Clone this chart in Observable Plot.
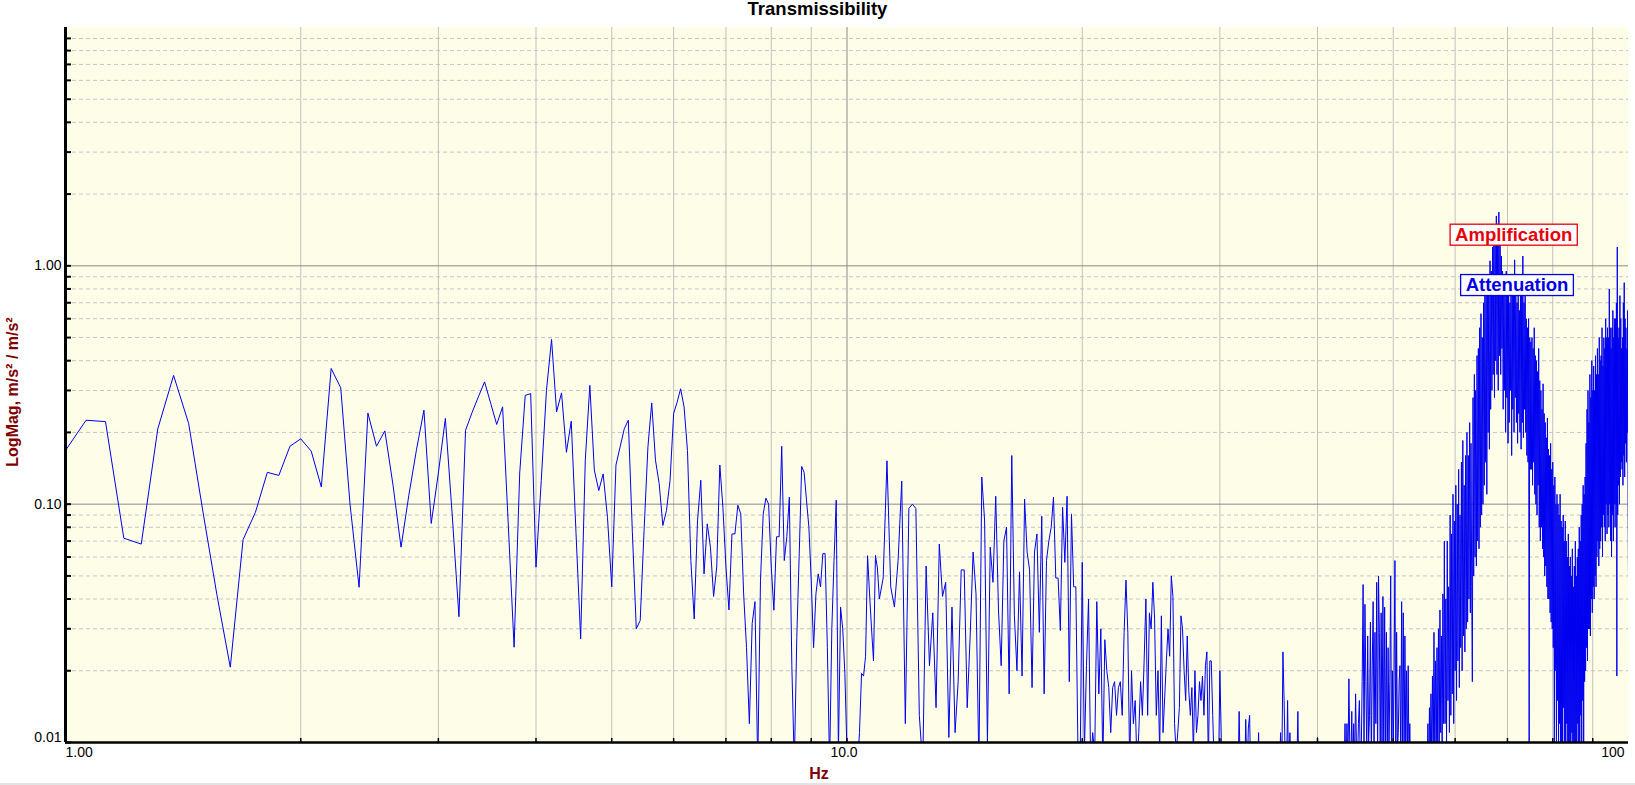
<!DOCTYPE html>
<html>
<head>
<meta charset="utf-8">
<script src="https://cdn.jsdelivr.net/npm/d3@7"></script>
<script src="https://cdn.jsdelivr.net/npm/@observablehq/plot@0.6"></script>
<style>
  body { margin: 0; background: #ffffff; font-family: "Liberation Sans", Arial, sans-serif; }
  #title { height: 20px; line-height: 17px; text-align: center; font-weight: bold; font-size: 18.5px; color: #000; }
  #chart svg { display: block; }
  #bottomline { height: 2px; background: #e3e3e3; }
</style>
</head>
<body>
<div id="title"></div>
<div id="chart"></div>
<div id="bottomline"></div>
<script>
// ---------------- data ----------------
const chartTitle = "Transmissibility";
const xLabel = "Hz";
const yLabel = "LogMag, m/s² / m/s²";

// 1.0 – 11.0 Hz, every FFT bin (0.0625 Hz)
const lowStartHz = 1.0;
const lowStepHz = 0.0625;
const magLow = [
  0.168, 0.225, 0.222, 0.072, 0.068, 0.207, 0.347, 0.218, 0.092, 0.0415, 0.0207, 0.071, 0.0925, 0.136, 0.132, 0.175,
  0.188, 0.167, 0.118, 0.371, 0.308, 0.100, 0.0448, 0.241, 0.175, 0.203, 0.12, 0.066, 0.109, 0.169, 0.248, 0.083,
  0.135, 0.229, 0.09, 0.0337, 0.204, 0.242, 0.282, 0.326, 0.265, 0.216, 0.256, 0.08, 0.0251, 0.135, 0.286, 0.291,
  0.0544, 0.126, 0.30, 0.491, 0.244, 0.293, 0.165, 0.223, 0.076, 0.0272, 0.153, 0.315, 0.139, 0.114, 0.134, 0.088,
  0.045, 0.146, 0.174, 0.207, 0.225, 0.077, 0.030, 0.0325, 0.0776, 0.174, 0.266, 0.153, 0.122, 0.0814, 0.094, 0.126,
  0.240, 0.268, 0.305, 0.256, 0.168, 0.058, 0.033, 0.085, 0.126, 0.051, 0.0827, 0.066, 0.041, 0.0545, 0.146, 0.097,
  0.0545, 0.036, 0.075, 0.075, 0.099, 0.091, 0.042, 0.025, 0.012, 0.0316, 0.039, 0.008, 0.048, 0.091, 0.106, 0.10,
  0.0545, 0.0359, 0.073, 0.073, 0.175, 0.058, 0.073, 0.107, 0.021, 0.008, 0.0276, 0.0623, 0.144, 0.136, 0.104, 0.080,
  0.048, 0.025, 0.042, 0.051, 0.045, 0.062, 0.062, 0.025, 0.008, 0.03, 0.058, 0.104, 0.009, 0.037, 0.030, 0.0195,
  0.009, 0.008, 0.007, 0.007, 0.008, 0.008, 0.011, 0.0195, 0.019, 0.023, 0.0608, 0.042, 0.030, 0.022, 0.061, 0.054,
  0.040
];

// 11.125 – 100 Hz, every 0.125 Hz (one row per Hz)
const highStartHz = 11.125;
const highStepHz = 0.125;
const magHigh = [
  0.049, 0.152, 0.045, 0.037, 0.058, 0.125, 0.012, 0.096,   // 11
  0.1, 0.096, 0.013, 0.008, 0.055, 0.021, 0.035, 0.014,     // 12
  0.068, 0.041, 0.047, 0.0105, 0.037, 0.011, 0.018, 0.053,  // 13
  0.053, 0.014, 0.028, 0.063, 0.042, 0.008, 0.13, 0.085,    // 14
  0.010, 0.066, 0.047, 0.108, 0.036, 0.021, 0.07, 0.08,     // 15
  0.016, 0.16, 0.034, 0.02, 0.052, 0.019, 0.105, 0.063,     // 16
  0.053, 0.017, 0.063, 0.075, 0.029, 0.089, 0.016, 0.058,   // 17
  0.07, 0.08, 0.107, 0.049, 0.049, 0.0295, 0.097, 0.057,    // 18
  0.108, 0.018, 0.091, 0.045, 0.045, 0.009, 0.008, 0.057,   // 19
  0.009, 0.021, 0.04, 0.008, 0.011, 0.009, 0.039, 0.016,    // 20
  0.03, 0.008, 0.027, 0.02, 0.017, 0.011, 0.017, 0.018,     // 21
  0.013, 0.017, 0.018, 0.013, 0.029, 0.048, 0.029, 0.008,   // 22
  0.02, 0.012, 0.015, 0.008, 0.011, 0.018, 0.013, 0.022,    // 23
  0.04, 0.013, 0.035, 0.03, 0.047, 0.033, 0.013, 0.02,      // 24
  0.009, 0.034, 0.011, 0.0155, 0.022, 0.03, 0.023, 0.05,    // 25
  0.041, 0.012, 0.009, 0.011, 0.014, 0.034, 0.03, 0.02,     // 26
  0.015, 0.028, 0.0165, 0.013, 0.017, 0.009, 0.02, 0.011,   // 27
  0.013, 0.018, 0.015, 0.019, 0.013, 0.021, 0.024, 0.008,   // 28
  0.022, 0.022, 0.013, 0.008, 0.007, 0.006, 0.007, 0.02,    // 29
  0.0105, 0.007, 0.006, 0.007, 0.006, 0.005, 0.006, 0.007,  // 30
  0.006, 0.007, 0.006, 0.007, 0.006, 0.0135, 0.007, 0.006,  // 31
  0.007, 0.006, 0.0125, 0.007, 0.0115, 0.013, 0.006, 0.007, // 32
  0.006, 0.007, 0.006, 0.007, 0.011, 0.006, 0.007, 0.006,   // 33
  0.006, 0.007, 0.005, 0.006, 0.007, 0.006, 0.005, 0.006,   // 34
  0.006, 0.007, 0.006, 0.005, 0.006, 0.007, 0.011, 0.007,   // 35
  0.024, 0.015, 0.008, 0.007, 0.015, 0.006, 0.011, 0.006,   // 36
  0.007, 0.006, 0.005, 0.006, 0.007, 0.0135, 0.006, 0.007,  // 37
  0.006, 0.005, 0.006, 0.007, 0.006, 0.005, 0.006, 0.007,   // 38
  0.006, 0.007, 0.0095, 0.006, 0.005, 0.006, 0.007, 0.0105, // 39
  0.006, 0.007, 0.006, 0.005, 0.006, 0.007, 0.006, 0.005,   // 40
  0.006, 0.005, 0.007, 0.006, 0.005, 0.006, 0.007, 0.006,   // 41
  0.006, 0.005, 0.006, 0.007, 0.006, 0.005, 0.006, 0.007,   // 42
  0.006, 0.007, 0.012, 0.007, 0.012, 0.008, 0.0185, 0.009,  // 43
  0.008, 0.0135, 0.007, 0.012, 0.008, 0.016, 0.009, 0.008,  // 44
  0.012, 0.015, 0.008, 0.009, 0.018, 0.046, 0.009, 0.038,   // 45
  0.018, 0.009, 0.028, 0.01, 0.013, 0.032, 0.008, 0.021,    // 46
  0.039, 0.009, 0.029, 0.012, 0.047, 0.008, 0.05, 0.029,    // 47
  0.008, 0.035, 0.009, 0.041, 0.008, 0.037, 0.009, 0.029,   // 48
  0.008, 0.025, 0.009, 0.018, 0.05, 0.008, 0.02, 0.009,     // 49
  0.02, 0.058, 0.008, 0.029, 0.009, 0.011, 0.018, 0.021,    // 50
  0.008, 0.039, 0.009, 0.035, 0.008, 0.028, 0.01, 0.02,     // 51
  0.008, 0.021, 0.008, 0.012, 0.007, 0.006, 0.007, 0.006,   // 52
  0.006, 0.007, 0.006, 0.005, 0.006, 0.007, 0.006, 0.005,   // 53
  0.006, 0.005, 0.006, 0.007, 0.006, 0.005, 0.006, 0.007,   // 54
  0.006, 0.007, 0.012, 0.006, 0.014, 0.008, 0.016, 0.009,   // 55
  0.019, 0.008, 0.029, 0.009, 0.022, 0.008, 0.025, 0.01,    // 56
  0.03, 0.009, 0.036, 0.011, 0.028, 0.009, 0.042, 0.012,    // 57
  0.07, 0.012, 0.04, 0.01, 0.07, 0.015, 0.045, 0.011,       // 58
  0.09, 0.013, 0.075, 0.016, 0.11, 0.012, 0.085, 0.02,      // 59
  0.12, 0.015, 0.1, 0.022, 0.14, 0.017, 0.09, 0.025,        // 60
  0.15, 0.02, 0.185, 0.028, 0.12, 0.024, 0.16, 0.03,        // 61
  0.2, 0.032, 0.16, 0.04, 0.22, 0.035, 0.18, 0.045,         // 62
  0.018, 0.28, 0.05, 0.35, 0.06, 0.3, 0.055, 0.42,          // 63
  0.07, 0.45, 0.065, 0.55, 0.08, 0.63, 0.09, 0.5,           // 64
  0.1, 0.7, 0.12, 0.85, 0.15, 0.75, 0.11, 0.9,              // 65
  0.2, 0.9, 0.17, 1.05, 0.25, 0.95, 0.3, 1.2,               // 66
  0.35, 1.3, 0.28, 1.45, 0.4, 1.62, 0.35, 1.5,              // 67
  0.3, 1.68, 0.42, 1.35, 0.35, 1.1, 0.45, 0.95,             // 68
  0.25, 0.9, 0.3, 0.8, 0.2, 0.95, 0.28, 0.75,               // 69
  0.18, 0.85, 0.22, 0.7, 0.3, 0.9, 0.16, 0.8,               // 70
  0.25, 0.75, 0.2, 1.06, 0.28, 0.85, 0.22, 0.7,             // 71
  0.18, 0.8, 0.24, 0.65, 0.2, 0.9, 0.17, 0.75,              // 72
  0.22, 1.1, 0.19, 0.7, 0.25, 0.85, 0.2, 0.6,               // 73
  0.16, 0.55, 0.15, 0.6, 0.008, 0.5, 0.14, 0.48,            // 74
  0.14, 0.5, 0.12, 0.45, 0.15, 0.55, 0.11, 0.42,            // 75
  0.1, 0.4, 0.09, 0.36, 0.12, 0.45, 0.08, 0.33,             // 76
  0.07, 0.3, 0.08, 0.25, 0.065, 0.32, 0.06, 0.24,           // 77
  0.05, 0.22, 0.055, 0.19, 0.045, 0.23, 0.04, 0.17,         // 78
  0.04, 0.16, 0.035, 0.18, 0.032, 0.14, 0.03, 0.15,         // 79
  0.025, 0.12, 0.008, 0.13, 0.02, 0.1, 0.009, 0.11,         // 80
  0.015, 0.1, 0.008, 0.09, 0.012, 0.11, 0.009, 0.085,       // 81
  0.01, 0.08, 0.009, 0.09, 0.014, 0.07, 0.008, 0.085,       // 82
  0.008, 0.07, 0.012, 0.06, 0.008, 0.075, 0.009, 0.055,     // 83
  0.01, 0.06, 0.008, 0.05, 0.011, 0.065, 0.008, 0.045,      // 84
  0.009, 0.055, 0.008, 0.07, 0.01, 0.05, 0.008, 0.06,       // 85
  0.012, 0.065, 0.009, 0.08, 0.008, 0.07, 0.013, 0.09,      // 86
  0.01, 0.1, 0.015, 0.12, 0.009, 0.11, 0.018, 0.13,         // 87
  0.02, 0.18, 0.025, 0.25, 0.022, 0.3, 0.03, 0.22,          // 88
  0.03, 0.35, 0.028, 0.28, 0.04, 0.4, 0.035, 0.3,           // 89
  0.045, 0.38, 0.04, 0.3, 0.05, 0.42, 0.045, 0.35,          // 90
  0.06, 0.45, 0.07, 0.35, 0.055, 0.5, 0.065, 0.4,           // 91
  0.07, 0.42, 0.08, 0.55, 0.06, 0.38, 0.09, 0.5,            // 92
  0.08, 0.45, 0.07, 0.6, 0.1, 0.5, 0.075, 0.55,             // 93
  0.09, 0.5, 0.08, 0.8, 0.1, 0.55, 0.07, 0.45,              // 94
  0.06, 0.55, 0.09, 0.65, 0.07, 0.5, 0.1, 0.6,              // 95
  0.08, 0.6, 0.1, 0.7, 0.019, 1.2, 0.09, 0.5,               // 96
  0.12, 0.55, 0.1, 0.75, 0.13, 0.6, 0.15, 0.45,             // 97
  0.14, 0.5, 0.12, 0.7, 0.16, 0.85, 0.13, 0.6,              // 98
  0.18, 0.55, 0.15, 0.45, 0.2, 0.65, 0.1, 0.047             // 99
];

const xDomain = [1, 100];
const yDomain = [0.01, 10];
const xMajorTicks = [1, 10, 100];
const xTickLabels = ["1.00", "10.0", "100"];
const xMinorGrid = [2, 3, 4, 5, 6, 7, 8, 9, 20, 30, 40, 50, 60, 70, 80, 90];
const yMajorTicks = [0.01, 0.1, 1];
const yTickLabels = ["0.01", "0.10", "1.00"];
const yMinorGrid = [0.02, 0.03, 0.04, 0.05, 0.06, 0.07, 0.08, 0.09,
                    0.2, 0.3, 0.4, 0.5, 0.6, 0.7, 0.8, 0.9,
                    2, 3, 4, 5, 6, 7, 8, 9];
const annotations = [
  {label: "Amplification", f: 71.3, v: 1.35, color: "#e8000b"},
  {label: "Attenuation",   f: 72.0, v: 0.83, color: "#0000e6"}
];

// ---------------- build ----------------
const spectrum = [
  ...magLow.map((v, i) => ({f: lowStartHz + i * lowStepHz, v})),
  ...magHigh.map((v, i) => ({f: highStartHz + i * highStepHz, v}))
];

document.getElementById("title").textContent = chartTitle;

const yLab = d => yTickLabels[yMajorTicks.indexOf(d)];
const xLab = d => xTickLabels[xMajorTicks.indexOf(d)];

const plot = Plot.plot({
  width: 1635,
  height: 763,
  marginLeft: 65,
  marginRight: 7,
  marginTop: 7,
  marginBottom: 41,
  x: {type: "log", domain: xDomain, label: null},
  y: {type: "log", domain: yDomain, label: null},
  style: {fontFamily: "'Liberation Sans', Arial, sans-serif", fontSize: "14px", color: "#000", background: "transparent", overflow: "visible"},
  marks: [
    Plot.frame({fill: "#fefee8", stroke: null}),
    Plot.ruleY(yMinorGrid, {stroke: "#c4c4c4", strokeDasharray: "4,3"}),
    Plot.ruleX(xMinorGrid, {stroke: "#c0c0c0"}),
    Plot.ruleY([0.1, 1], {stroke: "#8a8a8a"}),
    Plot.ruleX([10], {stroke: "#8a8a8a"}),
    Plot.line(spectrum, {x: "f", y: "v", stroke: "#0000f0", strokeWidth: 1, clip: true}),
    Plot.ruleX([xDomain[0]], {stroke: "#000", strokeWidth: 3}),
    Plot.ruleY([yDomain[0]], {stroke: "#000", strokeWidth: 2.5}),
    Plot.axisY([...yMajorTicks, ...yMinorGrid], {anchor: "left", tickSize: -6, strokeWidth: 2, tickFormat: () => "", label: null}),
    Plot.axisX([...xMinorGrid, 10], {anchor: "bottom", tickSize: -4, strokeWidth: 1.5, tickFormat: () => "", label: null}),
    Plot.axisY(yMajorTicks.slice(1), {anchor: "left", tickSize: 0, tickPadding: 4, tickFormat: yLab, label: null}),
    Plot.axisY(yMajorTicks.slice(0, 1), {anchor: "left", tickSize: 0, tickPadding: 4, dy: -5, tickFormat: yLab, label: null}),
    Plot.axisX(xMajorTicks.slice(0, 1), {anchor: "bottom", tickSize: 0, tickPadding: 5, textAnchor: "start", tickFormat: xLab, label: null}),
    Plot.axisX(xMajorTicks.slice(1, 2), {anchor: "bottom", tickSize: 0, tickPadding: 5, dx: -3, tickFormat: xLab, label: null}),
    Plot.axisX(xMajorTicks.slice(2), {anchor: "bottom", tickSize: 0, tickPadding: 5, textAnchor: "end", dx: -4, tickFormat: xLab, label: null}),
    Plot.text([yLabel], {frameAnchor: "left", textAnchor: "middle", lineAnchor: "middle", rotate: -90, dx: -53, dy: 7, fill: "#800000", fontWeight: "bold", fontSize: 16}),
    Plot.text([xLabel], {frameAnchor: "bottom", textAnchor: "middle", lineAnchor: "middle", dx: -28, dy: 31, fill: "#800000", fontWeight: "bold", fontSize: 16}),
    Plot.text(annotations, {x: "f", y: "v", text: "label", fill: "color", fontWeight: "bold", fontSize: 18.5})
  ]
});

document.getElementById("chart").append(plot);

// boxes behind the annotation labels, sized from the rendered text
const textGroups = plot.querySelectorAll('g[aria-label="text"]');
const annG = textGroups[textGroups.length - 1];
if (annG) {
  annG.querySelectorAll("text").forEach((t, i) => {
    const b = t.getBBox();
    const r = document.createElementNS("http://www.w3.org/2000/svg", "rect");
    r.setAttribute("x", b.x - 5);
    r.setAttribute("y", b.y + 0.5);
    r.setAttribute("width", b.width + 10);
    r.setAttribute("height", b.height);
    r.setAttribute("fill", "#ffffff");
    r.setAttribute("stroke", annotations[i].color);
    r.setAttribute("stroke-width", 1.3);
    if (t.getAttribute("transform")) r.setAttribute("transform", t.getAttribute("transform"));
    t.parentNode.insertBefore(r, t);
  });
}
</script>
</body>
</html>
